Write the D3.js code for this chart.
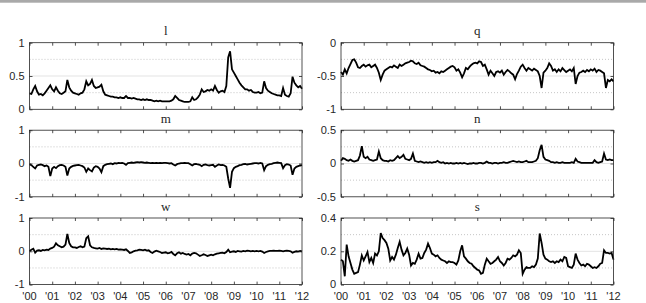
<!DOCTYPE html>
<html>
<head>
<meta charset="utf-8">
<script src="https://cdn.jsdelivr.net/npm/d3@7"></script>
<style>
body { margin: 0; background: #fff; }
svg { display: block; }
.tlabel { font-family: "Liberation Sans", Arial, sans-serif; font-size: 11px; fill: #262626; }
.ptitle { font-family: "Liberation Serif", "Times New Roman", serif; font-size: 13px; fill: #262626; }
</style>
</head>
<body>
<svg id="main-svg" width="646" height="303"></svg>
<script>
// monthly values, Jan 2000 .. Jan 2012
var startYear = 2000;
var yearTicks = [2000, 2001, 2002, 2003, 2004, 2005, 2006, 2007, 2008, 2009, 2010, 2011, 2012];
var yearLabels = ["'00", "'01", "'02", "'03", "'04", "'05", "'06", "'07", "'08", "'09", "'10", "'11", "'12"];

var lVals = [
    0.24, 0.23, 0.30, 0.35, 0.27, 0.22, 0.23, 0.21, 0.24, 0.28, 0.32, 0.36,
    0.30, 0.27, 0.33, 0.28, 0.24, 0.23, 0.25, 0.27, 0.44, 0.33, 0.28, 0.25,
    0.24, 0.23, 0.22, 0.24, 0.25, 0.30, 0.42, 0.36, 0.38, 0.44, 0.35, 0.32,
    0.33, 0.34, 0.37, 0.27, 0.22, 0.21, 0.20, 0.19, 0.19, 0.18, 0.18, 0.17,
    0.18, 0.17, 0.17, 0.20, 0.17, 0.17, 0.16, 0.17, 0.16, 0.15, 0.15, 0.14,
    0.15, 0.14, 0.15, 0.14, 0.14, 0.13, 0.12, 0.13, 0.12, 0.13, 0.12, 0.12,
    0.12, 0.12, 0.12, 0.13, 0.15, 0.20, 0.17, 0.14, 0.13, 0.12, 0.11, 0.11,
    0.11, 0.12, 0.18, 0.14, 0.15, 0.18, 0.22, 0.30, 0.26, 0.27, 0.29, 0.28,
    0.30, 0.28, 0.35, 0.29, 0.25, 0.27, 0.28, 0.26, 0.35, 0.78, 0.87, 0.60,
    0.55, 0.50, 0.45, 0.40, 0.36, 0.33, 0.30, 0.30, 0.28, 0.29, 0.26, 0.25,
    0.25, 0.26, 0.24, 0.25, 0.42, 0.32, 0.28, 0.26, 0.24, 0.23, 0.22, 0.21,
    0.21, 0.20, 0.32, 0.22, 0.20, 0.19, 0.24, 0.49, 0.40, 0.36, 0.33, 0.35,
    0.31
];

var qVals = [
    -0.44, -0.48, -0.40, -0.46, -0.38, -0.32, -0.26, -0.25, -0.30, -0.37, -0.38, -0.35,
    -0.33, -0.36, -0.34, -0.33, -0.37, -0.35, -0.33, -0.38, -0.45, -0.56, -0.48, -0.42,
    -0.40, -0.38, -0.36, -0.37, -0.34, -0.36, -0.38, -0.33, -0.35, -0.33, -0.31, -0.30,
    -0.29, -0.27, -0.28, -0.31, -0.32, -0.30, -0.34, -0.35, -0.36, -0.38, -0.40, -0.41,
    -0.43, -0.42, -0.45, -0.44, -0.46, -0.43, -0.44, -0.42, -0.40, -0.38, -0.36, -0.35,
    -0.37, -0.42, -0.40, -0.45, -0.52, -0.46, -0.38, -0.40, -0.36, -0.33, -0.31, -0.30,
    -0.31, -0.28, -0.29, -0.35, -0.33, -0.40, -0.48, -0.42, -0.46, -0.50, -0.44, -0.43,
    -0.45, -0.42, -0.48, -0.44, -0.41, -0.43, -0.46, -0.48, -0.55, -0.47, -0.42, -0.36,
    -0.33, -0.38, -0.42, -0.38, -0.40, -0.42, -0.39, -0.41, -0.43, -0.50, -0.68, -0.45,
    -0.42, -0.38, -0.31, -0.35, -0.42, -0.40, -0.44, -0.40, -0.43, -0.38, -0.41, -0.44,
    -0.42, -0.40, -0.43, -0.38, -0.62, -0.50, -0.45, -0.44, -0.42, -0.44, -0.41, -0.43,
    -0.40, -0.42, -0.39, -0.44, -0.41, -0.42, -0.44, -0.46, -0.68, -0.56, -0.58, -0.55,
    -0.58
];

var mVals = [
    -0.02, -0.05, -0.10, -0.15, -0.06, -0.04, -0.03, -0.05, -0.08, -0.06, -0.10, -0.38,
    -0.15, -0.10, -0.14, -0.08, -0.05, -0.04, -0.06, -0.10, -0.36, -0.15, -0.10, -0.07,
    -0.06, -0.05, -0.04, -0.06, -0.08, -0.12, -0.25, -0.15, -0.20, -0.24, -0.12, -0.08,
    -0.10, -0.15, -0.26, -0.08, -0.04, -0.02, -0.01, 0.00, -0.02, 0.01, 0.00, 0.02,
    0.01, 0.02, 0.00, -0.04, 0.01, 0.02, 0.03, 0.02, 0.03, 0.04, 0.03, 0.04,
    0.03, 0.02, 0.03, 0.02, 0.01, 0.02, 0.01, 0.02, 0.01, 0.02, 0.01, 0.02,
    0.02, 0.01, 0.00, 0.01, -0.03, -0.06, -0.02, 0.00, 0.01, 0.01, 0.02, 0.01,
    0.01, -0.02, -0.06, -0.02, -0.01, -0.03, -0.04, -0.08, -0.04, -0.03, -0.05, -0.06,
    -0.05, -0.04, -0.10, -0.06, -0.03, -0.05, -0.04, -0.06, -0.10, -0.45, -0.73, -0.25,
    -0.14, -0.10, -0.08, -0.05, -0.04, -0.02, -0.01, -0.03, -0.02, -0.01, 0.00, 0.01,
    0.01, 0.00, 0.02, 0.00, -0.20, -0.08, -0.04, -0.02, -0.01, 0.01, 0.02, 0.03,
    0.02, 0.01, -0.14, -0.05, -0.02, -0.03, -0.06, -0.34, -0.15, -0.10, -0.08, -0.06,
    -0.05
];

var nVals = [
    0.04, 0.08, 0.07, 0.05, 0.04, 0.06, 0.04, 0.03, 0.04, 0.05, 0.12, 0.26,
    0.10, 0.08, 0.10, 0.06, 0.05, 0.04, 0.05, 0.06, 0.18, 0.08, 0.05, 0.04,
    0.04, 0.03, 0.05, 0.04, 0.05, 0.08, 0.11, 0.08, 0.10, 0.13, 0.07, 0.06,
    0.05, 0.07, 0.15, 0.04, 0.03, 0.02, 0.03, 0.02, 0.01, 0.02, 0.01, 0.02,
    0.01, 0.02, 0.02, 0.04, 0.02, 0.01, 0.02, 0.00, 0.01, 0.00, 0.01, 0.00,
    0.00, 0.01, 0.00, 0.01, 0.00, 0.01, 0.00, -0.01, 0.00, 0.00, 0.01, 0.00,
    0.00, 0.01, 0.01, 0.00, 0.01, 0.03, 0.01, 0.01, 0.00, 0.01, 0.01, 0.00,
    0.01, 0.01, 0.02, 0.01, 0.01, 0.02, 0.03, 0.04, 0.03, 0.02, 0.03, 0.02,
    0.02, 0.03, 0.04, 0.02, 0.02, 0.02, 0.03, 0.04, 0.08, 0.20, 0.28, 0.10,
    0.06, 0.05, 0.04, 0.02, 0.02, 0.01, 0.02, 0.01, 0.01, 0.02, 0.01, 0.01,
    0.01, 0.01, 0.02, 0.01, 0.07, 0.03, 0.02, 0.01, 0.01, 0.01, 0.01, 0.01,
    0.01, 0.01, 0.05, 0.02, 0.01, 0.02, 0.03, 0.15, 0.06, 0.05, 0.06, 0.05,
    0.05
];

var wVals = [
    0.00, 0.05, 0.08, -0.04, 0.02, 0.03, 0.01, 0.04, 0.03, 0.05, 0.04, 0.08,
    0.10, 0.14, 0.24, 0.18, 0.15, 0.12, 0.14, 0.20, 0.52, 0.25, 0.15, 0.12,
    0.12, 0.10, 0.13, 0.15, 0.12, 0.14, 0.39, 0.45, 0.18, 0.12, 0.10, 0.09,
    0.08, 0.10, 0.07, 0.09, 0.08, 0.07, 0.08, 0.06, 0.07, 0.06, 0.07, 0.05,
    0.06, 0.05, 0.04, 0.06, 0.01, -0.05, -0.03, 0.00, 0.02, 0.03, 0.05, 0.04,
    0.03, 0.05, 0.02, 0.03, -0.02, -0.05, -0.01, 0.02, 0.00, -0.02, -0.05, -0.04,
    -0.03, -0.06, -0.05, -0.02, -0.08, -0.12, -0.06, -0.03, -0.07, -0.05, -0.08, -0.10,
    -0.08, -0.12, -0.07, -0.05, -0.06, -0.10, -0.14, -0.12, -0.09, -0.11, -0.14, -0.12,
    -0.10, -0.12, -0.09, -0.07, -0.06, -0.05, -0.04, -0.06, -0.02, 0.05, -0.03, -0.01,
    0.00, -0.02, 0.01, 0.00, -0.01, 0.01, 0.00, 0.02, 0.01, 0.00, 0.01, 0.00,
    0.01, 0.00, 0.01, -0.01, -0.05, -0.02, 0.00, 0.01, 0.01, 0.02, 0.01, 0.01,
    0.02, 0.01, 0.00, 0.01, 0.02, 0.01, 0.00, -0.04, -0.02, 0.00, -0.01, 0.01,
    0.00
];

var sVals = [
    0.15, 0.14, 0.05, 0.24, 0.17, 0.13, 0.09, 0.065, 0.07, 0.075, 0.12, 0.175,
    0.145, 0.17, 0.196, 0.135, 0.16, 0.13, 0.186, 0.175, 0.20, 0.31, 0.28, 0.267,
    0.25, 0.216, 0.145, 0.166, 0.15, 0.18, 0.22, 0.257, 0.21, 0.176, 0.19, 0.216,
    0.18, 0.115, 0.13, 0.125, 0.15, 0.186, 0.156, 0.16, 0.19, 0.21, 0.246, 0.22,
    0.186, 0.18, 0.17, 0.176, 0.16, 0.15, 0.145, 0.14, 0.13, 0.14, 0.135, 0.135,
    0.13, 0.12, 0.145, 0.20, 0.236, 0.17, 0.156, 0.14, 0.13, 0.125, 0.11, 0.10,
    0.09, 0.085, 0.065, 0.07, 0.12, 0.156, 0.14, 0.125, 0.13, 0.14, 0.15, 0.166,
    0.14, 0.13, 0.115, 0.13, 0.156, 0.15, 0.16, 0.176, 0.17, 0.18, 0.206, 0.19,
    0.065, 0.09, 0.105, 0.10, 0.10, 0.11, 0.105, 0.12, 0.156, 0.307, 0.25, 0.18,
    0.156, 0.15, 0.14, 0.135, 0.14, 0.13, 0.14, 0.135, 0.15, 0.14, 0.166, 0.16,
    0.11, 0.105, 0.10, 0.12, 0.186, 0.15, 0.13, 0.115, 0.12, 0.11, 0.125, 0.12,
    0.11, 0.10, 0.105, 0.10, 0.11, 0.125, 0.13, 0.206, 0.19, 0.19, 0.186, 0.19,
    0.15
];

var panels = [
    { title: 'l', vals: lVals, dom: [0, 1],      ticks: [0, 0.5, 1],     minor: [0.25, 0.75],   col: 0, row: 0 },
    { title: 'q', vals: qVals, dom: [-1, 0],     ticks: [-1, -0.5, 0],   minor: [-0.75, -0.25], col: 1, row: 0 },
    { title: 'm', vals: mVals, dom: [-1, 1],     ticks: [-1, 0, 1],      minor: [-0.5, 0.5],    col: 0, row: 1 },
    { title: 'n', vals: nVals, dom: [-0.5, 0.5], ticks: [-0.5, 0, 0.5],  minor: [-0.25, 0.25],  col: 1, row: 1 },
    { title: 'w', vals: wVals, dom: [-1, 1],     ticks: [-1, 0, 1],      minor: [-0.5, 0.5],    col: 0, row: 2 },
    { title: 's', vals: sVals, dom: [0, 0.4],    ticks: [0, 0.2, 0.4],   minor: [0.1, 0.3],     col: 1, row: 2 }
];

var svg = d3.select('#main-svg');
var axisCol = '#262626';

// grey strip along the top edge
svg.append('rect').attr('x', 0).attr('y', 0).attr('width', 646).attr('height', 2.7).attr('fill', '#a9a9a9');

var colX = [29.5, 341];
var rowY = [42.7, 130.2, 218];
var pw = 272.5, ph = 66.6;

panels.forEach(function(p) {
    var g = svg.append('g').attr('transform', 'translate(' + colX[p.col] + ',' + rowY[p.row] + ')');
    var x = d3.scaleLinear().domain([yearTicks[0], yearTicks[yearTicks.length - 1]]).range([0, pw]);
    var y = d3.scaleLinear().domain(p.dom).range([ph, 0]);

    // minor dotted grid
    g.selectAll('line.minor').data(p.minor).enter().append('line')
        .attr('x1', 0).attr('x2', pw)
        .attr('y1', function(d) { return y(d); }).attr('y2', function(d) { return y(d); })
        .attr('stroke', '#b8b8b8').attr('stroke-width', 0.8).attr('stroke-dasharray', '1,2');
    // major grid (interior ticks only)
    g.selectAll('line.major').data(p.ticks.slice(1, -1)).enter().append('line')
        .attr('x1', 0).attr('x2', pw)
        .attr('y1', function(d) { return y(d); }).attr('y2', function(d) { return y(d); })
        .attr('stroke', '#e3e3e3').attr('stroke-width', 1);

    // series
    var line = d3.line()
        .x(function(d, i) { return x(startYear + i / 12); })
        .y(function(d) { return y(d); });
    g.append('path').datum(p.vals)
        .attr('d', line)
        .attr('fill', 'none').attr('stroke', '#000').attr('stroke-width', 1.8)
        .attr('stroke-linejoin', 'miter');

    // inward ticks, bottom/top and left/right (box on)
    var bottom = d3.axisBottom(x).tickValues(yearTicks).tickSizeInner(-3).tickSizeOuter(0).tickFormat('');
    var top = d3.axisTop(x).tickValues(yearTicks).tickSizeInner(-3).tickSizeOuter(0).tickFormat('');
    var left = d3.axisLeft(y).tickValues(p.ticks).tickSizeInner(-3).tickSizeOuter(0).tickFormat('');
    var right = d3.axisRight(y).tickValues(p.ticks).tickSizeInner(-3).tickSizeOuter(0).tickFormat('');
    g.append('g').attr('transform', 'translate(0,' + ph + ')').call(bottom);
    g.append('g').call(top);
    g.append('g').call(left);
    g.append('g').attr('transform', 'translate(' + pw + ',0)').call(right);
    g.selectAll('.domain').remove();
    g.selectAll('.tick line').attr('stroke', axisCol).attr('stroke-width', 0.8);

    g.append('rect').attr('x', 0).attr('y', 0).attr('width', pw).attr('height', ph)
        .attr('fill', 'none').attr('stroke', axisCol).attr('stroke-width', 0.8);

    // y tick labels
    g.selectAll('text.ylab').data(p.ticks).enter().append('text')
        .attr('class', 'tlabel')
        .attr('x', -5).attr('y', function(d) { return y(d); })
        .attr('dy', '0.35em').attr('text-anchor', 'end')
        .text(function(d) { return String(d); });

    // x tick labels only on the bottom row
    if (p.row === 2) {
        g.selectAll('text.xlab').data(yearTicks).enter().append('text')
            .attr('class', 'tlabel')
            .attr('x', function(d) { return x(d); }).attr('y', ph + 15)
            .attr('text-anchor', 'middle')
            .text(function(d, i) { return yearLabels[i]; });
    }

    g.append('text').attr('class', 'ptitle')
        .attr('x', pw / 2).attr('y', -7.5).attr('text-anchor', 'middle')
        .text(p.title);
});
</script>
</body>
</html>
